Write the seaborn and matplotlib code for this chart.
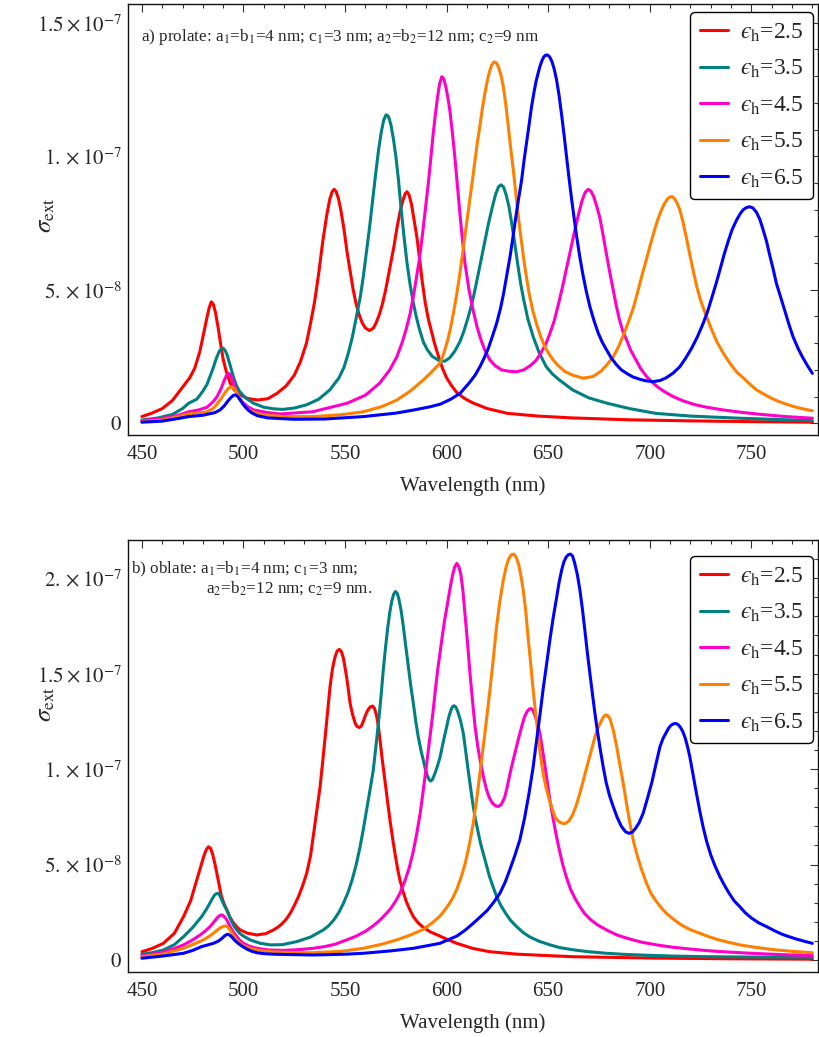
import numpy as np
import pandas as pd
import matplotlib
matplotlib.use("Agg")
import matplotlib.pyplot as plt
import seaborn as sns
from matplotlib.ticker import FixedLocator, FixedFormatter, MultipleLocator

# ---------------------------------------------------------------------------
# Extinction cross sections: (wavelength in nm, sigma in units of 1e-8)
# ---------------------------------------------------------------------------
eps_labels = ["2.5", "3.5", "4.5", "5.5", "6.5"]
line_colors = ["#FF0000", "#008080", "#FF00C8", "#FF8000", "#0000FF"]

# (a) prolate
prolate_25 = [(450, 0.25), (455, 0.38), (460, 0.55), (465, 0.85), (470, 1.35), (473.5, 1.7), (476, 2.06), (478.5, 2.68), (480.5, 3.4), (482, 3.95), (483.2, 4.35), (484.2, 4.55), (485.2, 4.45), (486.2, 4.15), (487.5, 3.6), (488.8, 2.95), (490, 2.4), (491.5, 1.95), (493.5, 1.5), (495.5, 1.25), (498, 1.08), (502, 0.93), (507, 0.87), (512, 0.92), (516.5, 1.12), (521, 1.4), (525, 1.8), (528, 2.3), (531, 3.0), (533, 3.74), (535, 4.55), (537, 5.6), (539, 6.8), (541, 7.8), (542.5, 8.4), (543.7, 8.68), (544.6, 8.76), (545.6, 8.68), (546.8, 8.4), (548, 7.95), (549.5, 7.25), (551, 6.4), (552.5, 5.7), (554, 5.0), (555.5, 4.45), (557, 4.05), (558.5, 3.75), (560, 3.57), (562, 3.47), (564, 3.57), (565.5, 3.8), (567, 4.1), (568.5, 4.5), (570, 5.0), (572, 5.8), (574, 6.6), (575.5, 7.3), (577, 7.9), (578.5, 8.35), (579.6, 8.6), (580.5, 8.67), (581.5, 8.55), (582.7, 8.2), (584, 7.6), (585.3, 7.0), (586.7, 6.15), (588, 5.3), (589.5, 4.5), (591, 3.9), (592.5, 3.45), (594, 3.0), (596, 2.5), (598, 2.05), (600, 1.7), (602.5, 1.4), (605, 1.15), (609, 0.92), (613, 0.76), (620, 0.55), (630, 0.37), (645, 0.27), (662, 0.2), (690, 0.13), (720, 0.09), (750, 0.06), (780, 0.04)]
prolate_35 = [(450, 0.12), (458, 0.2), (465, 0.33), (470, 0.55), (473, 0.75), (477, 0.9), (480, 1.2), (482, 1.45), (483.5, 1.75), (485, 2.05), (486.5, 2.4), (488, 2.68), (489, 2.78), (490, 2.81), (491, 2.72), (492, 2.55), (493.5, 2.15), (495, 1.75), (496.5, 1.42), (498, 1.2), (501, 0.95), (505, 0.75), (510, 0.6), (515, 0.54), (519.5, 0.52), (525, 0.57), (531, 0.69), (537, 0.9), (542.5, 1.25), (547, 1.7), (549.5, 2.1), (551.5, 2.6), (553.5, 3.2), (555.5, 3.95), (557.5, 4.74), (559, 5.5), (560.5, 6.4), (562, 7.3), (563.5, 8.3), (565, 9.3), (566.5, 10.24), (567.8, 10.9), (569, 11.35), (570.2, 11.55), (571.3, 11.5), (572.5, 11.2), (573.8, 10.65), (575, 10.0), (576.3, 9.1), (577.5, 8.1), (579, 7.0), (580.5, 6.0), (582, 5.2), (583.5, 4.55), (585, 4.0), (586.5, 3.55), (588.5, 3.05), (590.5, 2.75), (593, 2.5), (596, 2.36), (599, 2.32), (601.5, 2.45), (604, 2.7), (606.5, 3.05), (608.5, 3.45), (610.5, 3.95), (612.5, 4.5), (614.5, 5.2), (616.5, 5.95), (618.5, 6.7), (620.5, 7.45), (622.5, 8.1), (624, 8.55), (625.5, 8.85), (626.7, 8.93), (628, 8.85), (629.3, 8.55), (630.7, 8.1), (632, 7.5), (633.5, 6.75), (635, 5.95), (636.5, 5.2), (638, 4.6), (640, 3.9), (642.6, 3.24), (645.5, 2.65), (649, 2.12), (652, 1.85), (655, 1.65), (662, 1.25), (670, 0.95), (679, 0.75), (690, 0.55), (703, 0.37), (720, 0.27), (744, 0.19), (780, 0.1)]
prolate_45 = [(450, 0.1), (460, 0.18), (468, 0.3), (473, 0.43), (478, 0.5), (482, 0.6), (485, 0.8), (487, 1.0), (489, 1.3), (490.5, 1.6), (491.7, 1.8), (492.6, 1.87), (493.5, 1.82), (494.5, 1.65), (495.5, 1.42), (496.5, 1.2), (498, 0.95), (500, 0.75), (502.5, 0.6), (505, 0.5), (512, 0.4), (518, 0.35), (534, 0.43), (551, 0.75), (560, 1.05), (567, 1.5), (572, 2.0), (575.5, 2.49), (578, 3.0), (580, 3.5), (582, 4.1), (583.6, 4.74), (585, 5.4), (586.5, 6.1), (588, 7.0), (589.5, 8.0), (591, 9.0), (592.3, 10.0), (593.4, 10.86), (594.5, 11.6), (595.5, 12.2), (596.5, 12.7), (597.6, 12.98), (598.6, 12.9), (599.6, 12.6), (600.6, 12.2), (601.6, 11.7), (602.8, 10.9), (604, 10.0), (605.3, 8.9), (606.6, 7.8), (607.8, 6.85), (609, 6.0), (611, 5.0), (613, 4.24), (615, 3.6), (617, 3.1), (619, 2.7), (621.3, 2.37), (624, 2.15), (627, 2.0), (630.5, 1.95), (634.4, 1.93), (638, 2.0), (641, 2.15), (644, 2.35), (646.5, 2.65), (649, 3.0), (651, 3.4), (653, 3.85), (655, 4.45), (657, 5.1), (659, 5.8), (661, 6.5), (663, 7.2), (665, 7.85), (666.7, 8.35), (668.2, 8.65), (669.7, 8.76), (671, 8.7), (672.3, 8.5), (673.8, 8.15), (675.4, 7.7), (677, 7.05), (678.5, 6.4), (680.3, 5.65), (682, 4.99), (683.5, 4.4), (685, 3.9), (686.7, 3.45), (688.6, 3.12), (690.5, 2.75), (693, 2.4), (695.5, 2.05), (698.4, 1.75), (701, 1.55), (704, 1.35), (707.5, 1.17), (711.5, 1.0), (716, 0.85), (722, 0.7), (728, 0.6), (736, 0.5), (745, 0.41), (755, 0.33), (767, 0.25), (780, 0.19)]
prolate_55 = [(450, 0.06), (460, 0.12), (468, 0.25), (473, 0.35), (478, 0.38), (482, 0.43), (485, 0.55), (487, 0.72), (489, 0.92), (491, 1.15), (492.7, 1.32), (494.3, 1.37), (495.5, 1.3), (496.5, 1.17), (497.5, 1.0), (498.5, 0.88), (500, 0.69), (502, 0.53), (504, 0.45), (507, 0.37), (510, 0.31), (520, 0.25), (534, 0.25), (548, 0.32), (559, 0.43), (568, 0.62), (575.5, 0.87), (582, 1.2), (588.5, 1.62), (593, 1.95), (596.7, 2.25), (598.5, 2.6), (600.5, 3.1), (602, 3.6), (603.5, 4.2), (605, 4.85), (606.5, 5.6), (608, 6.45), (609.5, 7.3), (611, 8.15), (612.5, 9.0), (613.8, 9.75), (615, 10.45), (616.3, 11.1), (617.5, 11.75), (618.7, 12.3), (619.8, 12.75), (621, 13.15), (622.2, 13.42), (623.3, 13.53), (624.4, 13.5), (625.5, 13.35), (626.7, 13.05), (627.9, 12.6), (629, 12.0), (630, 11.35), (631.3, 10.45), (632.8, 9.49), (634.2, 8.5), (635.5, 7.6), (637, 6.7), (638.5, 5.85), (640.5, 4.9), (642.3, 4.25), (644.3, 3.7), (646.5, 3.2), (648.5, 2.85), (650.5, 2.58), (652.5, 2.37), (655, 2.15), (658, 1.95), (662, 1.8), (667.2, 1.69), (672, 1.75), (676, 1.95), (679, 2.2), (682, 2.49), (684.5, 2.85), (687, 3.3), (689.5, 3.8), (691.8, 4.3), (693.8, 4.85), (696, 5.5), (698, 6.05), (700, 6.61), (702, 7.15), (703.8, 7.6), (705.5, 7.95), (707, 8.2), (708.5, 8.38), (709.8, 8.47), (710.9, 8.49), (712, 8.43), (713.3, 8.27), (714.8, 7.99), (716.3, 7.55), (718, 6.95), (719.6, 6.35), (721.3, 5.74), (723, 5.15), (725, 4.6), (727.9, 4.0), (730.5, 3.5), (733, 3.05), (736, 2.65), (739.4, 2.25), (743, 1.9), (746, 1.7), (749.5, 1.45), (752.5, 1.25), (756, 1.1), (759, 0.97), (763, 0.83), (767, 0.72), (772, 0.6), (776, 0.53), (780, 0.47)]
prolate_65 = [(450, 0.04), (460, 0.08), (468, 0.18), (473, 0.25), (480, 0.3), (486, 0.4), (488.5, 0.5), (490.5, 0.65), (492.5, 0.85), (494, 0.98), (495.2, 1.05), (496.2, 1.06), (497.2, 1.0), (498.3, 0.88), (499.5, 0.75), (501, 0.6), (502.5, 0.48), (504.5, 0.37), (507, 0.28), (512, 0.2), (525, 0.15), (540, 0.16), (559, 0.25), (575, 0.38), (584, 0.5), (592, 0.62), (597, 0.72), (602, 0.9), (606.6, 1.12), (611, 1.5), (614, 1.8), (616.4, 2.12), (618.5, 2.45), (620.5, 2.8), (622.5, 3.25), (624.6, 3.74), (626.5, 4.3), (628, 4.85), (629.5, 5.5), (631.2, 6.24), (632.7, 7.0), (634, 7.7), (635.5, 8.45), (636.9, 9.11), (638.2, 9.9), (639.5, 10.6), (640.7, 11.25), (641.8, 11.86), (643, 12.4), (644, 12.8), (645, 13.1), (645.9, 13.36), (646.9, 13.58), (647.8, 13.72), (648.8, 13.79), (649.7, 13.79), (650.7, 13.72), (651.8, 13.55), (653, 13.25), (654.1, 12.86), (655.3, 12.3), (656.5, 11.6), (657.8, 10.8), (659, 9.99), (660.2, 9.2), (661.5, 8.4), (662.8, 7.65), (664, 6.99), (665.5, 6.25), (667, 5.6), (668.7, 4.95), (670.5, 4.37), (672.5, 3.85), (674.5, 3.4), (676.5, 3.05), (678.7, 2.75), (681, 2.45), (683.5, 2.2), (686, 2.0), (688.6, 1.87), (691.5, 1.74), (695, 1.65), (698, 1.59), (701.6, 1.56), (705, 1.6), (708, 1.7), (711.5, 1.88), (714.8, 2.12), (717.5, 2.42), (720.5, 2.8), (723.5, 3.25), (726.3, 3.75), (728.5, 4.2), (730.5, 4.7), (732.5, 5.2), (734.5, 5.74), (736.5, 6.3), (738.5, 6.8), (740.5, 7.25), (742.7, 7.61), (744.5, 7.85), (746, 8.0), (747.6, 8.08), (749.2, 8.11), (750.8, 8.06), (752.5, 7.9), (754.2, 7.63), (755.8, 7.24), (757.5, 6.8), (759, 6.3), (760.7, 5.78), (762.3, 5.24), (764.5, 4.7), (766.5, 4.2), (768.5, 3.7), (770.5, 3.24), (773, 2.8), (775, 2.5), (777.5, 2.17), (780, 1.87)]

# (b) oblate
oblate_25 = [(450, 0.43), (455, 0.6), (460.6, 0.87), (466, 1.4), (470.5, 2.27), (474, 3.1), (477, 4.19), (479, 4.9), (480.5, 5.45), (481.7, 5.78), (482.8, 5.93), (483.8, 5.85), (484.8, 5.55), (485.8, 5.1), (486.9, 4.54), (488, 3.95), (489, 3.4), (490.3, 2.98), (491.8, 2.62), (493.3, 2.25), (495, 1.95), (496.7, 1.73), (498.4, 1.57), (502, 1.4), (506.6, 1.31), (511, 1.38), (514.7, 1.57), (517, 1.72), (519, 1.9), (521, 2.13), (523, 2.44), (525, 2.85), (527, 3.3), (529, 3.85), (531.1, 4.54), (533, 5.45), (534.5, 6.6), (536, 7.75), (537.7, 9.07), (539, 10.4), (540.5, 12.0), (541.6, 13.2), (542.6, 14.31), (543.8, 15.25), (545, 15.85), (546.1, 16.18), (547.2, 16.27), (548.2, 16.15), (549.2, 15.8), (550.1, 15.25), (550.8, 14.8), (551.7, 14.1), (552.5, 13.44), (553.7, 12.85), (555, 12.4), (556, 12.22), (557, 12.18), (558, 12.25), (559, 12.5), (560, 12.8), (561, 13.05), (562.3, 13.25), (563.6, 13.3), (564.6, 13.15), (565.5, 12.8), (566.4, 12.25), (567.2, 11.52), (568.3, 10.5), (569.5, 9.5), (570.8, 8.4), (572.1, 7.33), (573.5, 6.3), (575, 5.3), (576, 4.7), (577, 4.19), (578.5, 3.6), (580, 3.1), (581.8, 2.65), (583.6, 2.27), (585.7, 1.98), (588, 1.75), (591.8, 1.48), (596.7, 1.25), (600.8, 1.05), (605, 0.87), (613, 0.6), (621.3, 0.43), (635, 0.3), (662, 0.17), (700, 0.1), (740, 0.06), (780, 0.04)]
oblate_35 = [(450, 0.3), (455, 0.38), (460.6, 0.52), (466, 0.8), (470.5, 1.22), (475, 1.7), (479.4, 2.27), (482, 2.7), (484.3, 3.14), (485.6, 3.38), (486.6, 3.47), (487.6, 3.49), (488.5, 3.35), (489.5, 3.1), (490.6, 2.85), (491.8, 2.62), (493, 2.3), (494, 2.05), (495.3, 1.78), (496.7, 1.57), (498.3, 1.38), (500, 1.25), (503.3, 1.05), (508, 0.88), (513.1, 0.79), (519, 0.8), (526.2, 0.96), (533, 1.2), (539.3, 1.57), (542, 1.8), (544.5, 2.1), (547, 2.5), (549.2, 2.97), (551.5, 3.55), (553.5, 4.2), (555.5, 5.0), (557.4, 5.93), (559, 6.85), (560.5, 7.8), (562.2, 8.85), (563.9, 9.95), (565.2, 11.2), (566.5, 12.5), (567.7, 13.8), (568.8, 15.18), (569.9, 16.35), (571, 17.4), (572, 18.2), (573, 18.8), (573.9, 19.15), (574.8, 19.3), (575.7, 19.2), (576.5, 18.9), (577.6, 18.3), (578.7, 17.45), (579.8, 16.5), (581, 15.5), (582.3, 14.4), (583.6, 13.44), (584.8, 12.5), (586, 11.7), (587.3, 11.0), (588.5, 10.47), (589.5, 10.0), (590.5, 9.65), (591.3, 9.45), (592.1, 9.37), (593, 9.45), (594, 9.7), (595.3, 10.1), (596.7, 10.6), (598.5, 11.5), (600, 12.21), (601, 12.7), (602, 13.05), (602.8, 13.25), (603.6, 13.32), (604.5, 13.25), (605.5, 13.0), (606.8, 12.55), (608.2, 11.87), (609.3, 11.0), (610.5, 10.0), (611.8, 9.0), (613.1, 8.03), (614.3, 7.3), (615.5, 6.7), (616.7, 6.1), (618, 5.59), (619.5, 5.0), (621, 4.4), (622.8, 3.85), (624.6, 3.32), (626.7, 2.85), (629, 2.45), (631.5, 2.07), (634.4, 1.75), (637.5, 1.45), (641, 1.2), (645.5, 0.98), (650.8, 0.79), (656, 0.64), (663, 0.52), (670, 0.43), (678.7, 0.35), (688, 0.29), (700, 0.24), (713, 0.2), (727.9, 0.17), (755, 0.15), (780, 0.14)]
oblate_45 = [(450, 0.21), (460, 0.4), (466, 0.6), (470.5, 0.79), (475, 1.05), (478.7, 1.31), (481, 1.5), (483.6, 1.75), (485.5, 2.0), (487, 2.2), (488.2, 2.32), (489.3, 2.36), (490.3, 2.3), (491.5, 2.15), (492.5, 1.95), (493.4, 1.75), (494.8, 1.5), (496.5, 1.25), (498.2, 1.03), (500, 0.87), (502.5, 0.74), (505, 0.65), (509, 0.57), (513.1, 0.52), (520, 0.5), (527, 0.54), (534.4, 0.61), (540, 0.7), (545, 0.82), (550.8, 1.05), (555.5, 1.25), (560, 1.5), (564, 1.8), (567.2, 2.09), (570, 2.4), (572.5, 2.7), (575, 3.1), (577, 3.49), (579.3, 4.1), (581.5, 4.8), (583.5, 5.65), (585.3, 6.63), (587, 7.7), (588.5, 8.9), (590.2, 10.3), (591.8, 11.69), (593.3, 13.0), (594.5, 14.2), (595.6, 15.2), (596.7, 16.06), (597.9, 17.0), (599, 17.8), (600, 18.4), (600.8, 18.9), (601.9, 19.6), (603, 20.2), (604, 20.6), (605, 20.77), (606, 20.6), (607, 20.2), (608, 19.35), (609, 18.15), (610.3, 16.6), (611.5, 15.0), (612.8, 13.5), (614, 12.21), (615.5, 11.05), (617, 10.2), (618.3, 9.5), (619.7, 8.9), (621, 8.5), (622.5, 8.22), (624, 8.08), (625.4, 8.03), (626.9, 8.15), (628.5, 8.5), (629.8, 9.05), (631.2, 9.77), (632.6, 10.4), (634, 11.0), (635.5, 11.65), (636.9, 12.21), (638.2, 12.7), (639.5, 13.0), (640.5, 13.13), (641.5, 13.17), (642.5, 13.07), (643.5, 12.8), (644.7, 12.4), (645.9, 11.87), (647.2, 11.0), (648.5, 10.1), (649.7, 9.2), (650.8, 8.38), (652.4, 7.4), (654, 6.5), (655.7, 5.65), (657.4, 4.89), (659.2, 4.25), (661, 3.7), (663.3, 3.2), (665.6, 2.79), (668, 2.42), (671, 2.1), (674.5, 1.82), (678.7, 1.57), (684, 1.3), (690, 1.1), (696, 0.93), (703.3, 0.79), (711, 0.67), (720, 0.57), (728, 0.49), (736.1, 0.43), (748, 0.36), (760, 0.3), (770, 0.26), (780, 0.23)]
oblate_55 = [(450, 0.17), (460, 0.3), (470.5, 0.61), (476, 0.85), (480.3, 1.05), (484, 1.3), (486, 1.47), (487.5, 1.6), (489, 1.71), (490.3, 1.77), (491.5, 1.78), (492.5, 1.7), (493.5, 1.55), (494.8, 1.32), (496.7, 1.05), (498.3, 0.88), (500, 0.75), (503, 0.62), (506.6, 0.52), (515, 0.42), (525, 0.38), (534.4, 0.38), (548, 0.45), (559, 0.61), (568, 0.82), (575.4, 1.05), (582, 1.3), (588.5, 1.6), (593, 1.95), (596.7, 2.3), (599, 2.6), (601, 2.9), (603, 3.25), (605, 3.7), (607, 4.3), (609, 5.0), (611, 5.95), (613.1, 7.16), (615, 8.6), (617, 10.3), (619.2, 12.2), (621.3, 14.14), (623, 15.8), (624.5, 17.4), (626.2, 18.8), (627.9, 19.9), (629.2, 20.55), (630.5, 21.0), (631.8, 21.22), (633.1, 21.26), (634.3, 21.08), (635.5, 20.7), (636.6, 20.1), (637.7, 19.37), (638.9, 18.3), (640, 17.0), (641.3, 15.6), (642.6, 14.14), (643.8, 12.9), (645, 11.8), (646.2, 10.7), (647.5, 9.77), (649, 9.0), (650.5, 8.4), (652, 7.9), (653.3, 7.5), (654.7, 7.3), (656, 7.2), (657.3, 7.15), (658.7, 7.16), (660.3, 7.3), (662, 7.6), (663.8, 8.1), (665.6, 8.73), (667.5, 9.5), (669.5, 10.3), (671.3, 11.0), (673, 11.69), (674.5, 12.15), (676, 12.5), (677.1, 12.72), (678.2, 12.83), (679.3, 12.8), (680.5, 12.6), (682, 12.05), (683.7, 11.17), (685.3, 10.2), (687, 9.2), (688.6, 8.15), (690.2, 7.16), (692, 6.2), (694, 5.4), (696.2, 4.65), (698.4, 4.02), (700.5, 3.5), (703, 3.1), (705.5, 2.75), (708.2, 2.44), (712, 2.1), (716, 1.8), (720, 1.58), (724.6, 1.4), (729, 1.22), (734, 1.05), (739, 0.92), (744.3, 0.79), (752, 0.66), (760, 0.55), (770, 0.45), (780, 0.38)]
oblate_65 = [(450, 0.09), (460, 0.2), (470.5, 0.35), (475, 0.5), (479.4, 0.7), (485.2, 0.87), (487.5, 0.98), (489.3, 1.12), (490.8, 1.27), (492.1, 1.35), (493.2, 1.3), (494.3, 1.2), (495.5, 1.05), (497, 0.9), (498.4, 0.79), (500.2, 0.66), (502, 0.55), (504.2, 0.45), (506.6, 0.38), (510, 0.33), (515, 0.3), (534.4, 0.26), (550, 0.3), (559, 0.35), (572, 0.47), (583.6, 0.61), (596.7, 0.87), (605, 1.25), (609, 1.55), (613.1, 1.92), (616.5, 2.25), (620, 2.6), (623, 3.0), (626.2, 3.49), (628.7, 4.05), (631, 4.7), (633.5, 5.45), (636, 6.28), (638.3, 7.4), (640.5, 8.7), (642.5, 10.05), (644.3, 11.52), (646, 12.9), (647.5, 14.2), (649.2, 15.5), (650.8, 16.75), (652.4, 17.9), (654, 18.9), (655.3, 19.75), (656.6, 20.42), (657.7, 20.85), (658.8, 21.1), (659.9, 21.23), (661, 21.26), (662, 21.15), (663, 20.8), (664.3, 20.2), (665.6, 19.37), (666.8, 18.4), (668, 17.3), (669.2, 16.15), (670.5, 15.01), (671.8, 13.9), (673, 12.9), (674.2, 12.0), (675.4, 11.17), (677, 10.15), (678.5, 9.3), (680.2, 8.6), (682, 8.03), (684, 7.45), (686, 7.0), (688, 6.72), (689.8, 6.63), (691.5, 6.7), (693, 6.9), (694.8, 7.2), (696.7, 7.68), (698.8, 8.45), (701, 9.3), (703, 10.25), (705, 11.17), (706.5, 11.6), (708, 11.9), (709.3, 12.15), (710.5, 12.3), (711.7, 12.37), (712.8, 12.39), (713.9, 12.33), (715, 12.2), (716.3, 11.95), (717.5, 11.6), (718.6, 11.15), (719.7, 10.64), (721.3, 9.7), (723, 8.7), (724.6, 7.8), (726.2, 6.98), (728, 6.2), (730, 5.5), (732.2, 4.9), (734.5, 4.36), (736.8, 3.9), (739, 3.5), (741.5, 3.1), (744.3, 2.79), (747, 2.47), (750, 2.2), (753.5, 1.95), (757.4, 1.75), (761, 1.55), (765, 1.35), (768.5, 1.22), (772, 1.1), (776, 0.98), (780, 0.87)]

prolate_curves = [prolate_25, prolate_35, prolate_45, prolate_55, prolate_65]
oblate_curves = [oblate_25, oblate_35, oblate_45, oblate_55, oblate_65]

x_major = [450, 500, 550, 600, 650, 700, 750]
top_yticks = [0, 5e-8, 1e-7, 1.5e-7]
top_ylabels = ["$0$", r"$5.\times10^{-8}$", r"$1.\times10^{-7}$", r"$1.5\times10^{-7}$"]
bot_yticks = [0, 5e-8, 1e-7, 1.5e-7, 2e-7]
bot_ylabels = ["$0$", r"$5.\times10^{-8}$", r"$1.\times10^{-7}$", r"$1.5\times10^{-7}$", r"$2.\times10^{-7}$"]


def long_frame(curves):
    parts = []
    for lab, pts in zip(eps_labels, curves):
        arr = np.asarray(pts, dtype=float)
        parts.append(pd.DataFrame({"wl": arr[:, 0], "sigma": arr[:, 1] * 1e-8, "eps": lab}))
    return pd.concat(parts, ignore_index=True)


sns.set_theme(style="white")
plt.rcParams["font.family"] = ["Liberation Serif", "DejaVu Serif"]
plt.rcParams["mathtext.fontset"] = "stix"

fig = plt.figure(figsize=(8.2, 10.37), dpi=100)
ax_top = fig.add_axes([0.1557, 0.5805, 0.8424, 0.4156])
ax_bot = fig.add_axes([0.1557, 0.0627, 0.8424, 0.4166])

palette = dict(zip(eps_labels, line_colors))


def draw_panel(ax, df, ylim, yticks, ylabels, legend_anchor, ylabel_y):
    sns.lineplot(data=df, x="wl", y="sigma", hue="eps", hue_order=eps_labels,
                 palette=palette, estimator=None, lw=2.2, ax=ax, legend=False)
    ax.set_xlim(443, 783)
    ax.set_ylim(*ylim)
    ax.xaxis.set_major_locator(FixedLocator(x_major))
    ax.xaxis.set_minor_locator(MultipleLocator(10))
    ax.yaxis.set_major_locator(FixedLocator(yticks))
    ax.yaxis.set_major_formatter(FixedFormatter(ylabels))
    ax.yaxis.set_minor_locator(MultipleLocator(1e-8))
    ax.tick_params(which="both", direction="in", top=True, right=True,
                   color="#333333", width=0.8)
    ax.tick_params(which="major", length=5.5, labelsize=15)
    ax.tick_params(which="minor", length=3)
    ax.tick_params(axis="x", which="major", pad=7)
    ax.tick_params(axis="y", which="major", pad=4)
    for sp in ax.spines.values():
        sp.set_color("#111111")
        sp.set_linewidth(1.0)
    ax.set_xlabel("Wavelength (nm)", fontsize=15, labelpad=9)
    ax.set_ylabel(r"$\sigma_{\mathrm{ext}}$", fontsize=18)
    ax.yaxis.set_label_coords(-0.102, ylabel_y)
    handles = ax.get_lines()[:5]
    labels = ["$\u03f5_{\\mathrm{h}}$=" + e for e in eps_labels]
    leg = ax.legend(handles, labels, loc="upper right", bbox_to_anchor=legend_anchor,
                    borderaxespad=0, fontsize=17, frameon=True, fancybox=True,
                    framealpha=1, edgecolor="black", handlelength=1.2,
                    handletextpad=0.5, labelspacing=0.6, borderpad=0.4)
    leg.get_frame().set_linewidth(1.0)


draw_panel(ax_top, long_frame(prolate_curves), (-0.44e-8, 15.7e-8),
           top_yticks, top_ylabels, (0.992, 0.981), 0.51)
draw_panel(ax_bot, long_frame(oblate_curves), (-0.63e-8, 22.0e-8),
           bot_yticks, bot_ylabels, (0.992, 0.963), 0.62)

ax_top.text(0.019, 0.923,
            "a) prolate: a$_1$=b$_1$=4 nm; c$_1$=3 nm; a$_2$=b$_2$=12 nm; c$_2$=9 nm",
            transform=ax_top.transAxes, fontsize=12.3, va="center", ha="left")
ax_bot.text(0.005, 0.933, "b) oblate: a$_1$=b$_1$=4 nm; c$_1$=3 nm;",
            transform=ax_bot.transAxes, fontsize=12.3, va="center", ha="left")
ax_bot.text(0.113, 0.889, "a$_2$=b$_2$=12 nm; c$_2$=9 nm.",
            transform=ax_bot.transAxes, fontsize=12.3, va="center", ha="left")

fig.savefig("out.png", dpi=100)
